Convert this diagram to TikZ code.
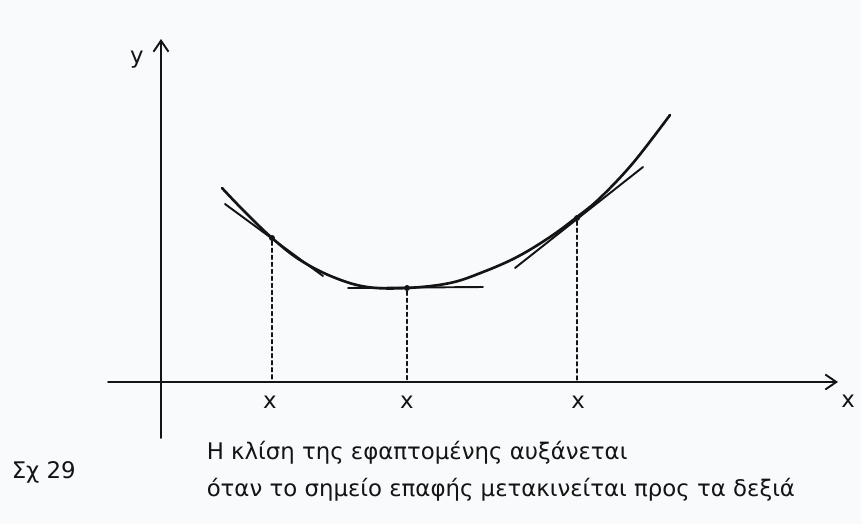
\documentclass[tikz,border=0pt]{standalone}
\usepackage{fontspec}
\setmainfont{DejaVu Sans}
\usetikzlibrary{arrows.meta}
\definecolor{SlopePaper}{rgb}{0.975,0.98,0.99}
\definecolor{SlopeInk}{gray}{0.08}
\tikzset{
    slope/diagram/.style={
        x=0.02cm, y=-0.02cm,
        font=\fontsize{13}{15.5}\selectfont,
        draw=SlopeInk,
        text=SlopeInk,
        line cap=round,
        line join=round
    },
    slope/axis/.style={
        draw=SlopeInk, line width=1.1pt,
        -{Straight Barb[length=2.2mm, width=3mm]}
    },
    slope/curve/.style={draw=SlopeInk, line width=1.5pt},
    slope/tangent/.style={draw=SlopeInk, line width=1.1pt},
    slope/guide/.style={
        draw=SlopeInk, line width=0.9pt,
        dash pattern=on 2.2pt off 1.8pt
    },
    slope/point/.style={circle, fill=SlopeInk, draw=none, inner sep=1.2pt},
    slope/label/.style={inner sep=1pt, outer sep=0pt}
}

\begin{document}
\begin{tikzpicture}[slope/diagram]
    \fill[SlopePaper] (0,0) rectangle (861,524);
    \useasboundingbox (0,0) rectangle (861,524);
    % axes
    \coordinate (XStart) at (108,382);
    \coordinate (XEnd) at (838,382);
    \coordinate (YStart) at (161,438);
    \coordinate (YEnd) at (161,39);
    \draw[slope/axis] (XStart) -- (XEnd);
    \draw[slope/axis] (YStart) -- (YEnd);
    \node[slope/label] (XName) at (848,401) {x};
    \node[slope/label] (YName) at (137,60) {y};
    % the curve
    \draw[slope/curve] plot[smooth, tension=0.6] coordinates {
        (222,188) (243,210) (272,238) (300,260) (333,277) (367,287)
        (407,288) (450,283) (483,272) (517,257) (550,237) (577,217)
        (600,198) (633,163) (670,115)
    };
    % points of contact and their tangents
    \node[slope/point] (LeftPt) at (272,238) {};
    \node[slope/point] (MidPt) at (407,288) {};
    \node[slope/point] (RightPt) at (577,218) {};
    \coordinate (LeftTanA) at (225,204);
    \coordinate (LeftTanB) at (323,276);
    \coordinate (MidTanA) at (348,288);
    \coordinate (MidTanB) at (483,287);
    \coordinate (RightTanA) at (515,268);
    \coordinate (RightTanB) at (643,167);
    \draw[slope/tangent] (LeftTanA) -- (LeftTanB);
    \draw[slope/tangent] (MidTanA) -- (MidTanB);
    \draw[slope/tangent] (RightTanA) -- (RightTanB);
    % projections on the x axis
    \coordinate (LeftFoot) at (272,382);
    \coordinate (MidFoot) at (407,382);
    \coordinate (RightFoot) at (577,382);
    \draw[slope/guide] (LeftPt) -- (LeftFoot);
    \draw[slope/guide] (MidPt) -- (MidFoot);
    \draw[slope/guide] (RightPt) -- (RightFoot);
    \node[slope/label] (LeftX) at (270,402) {x};
    \node[slope/label] (MidX) at (407,402) {x};
    \node[slope/label] (RightX) at (578,402) {x};
    % caption
    \node[slope/label, anchor=west] (CaptionA) at (205,453)
        {Η κλίση της εφαπτομένης αυξάνεται};
    \node[slope/label, anchor=west] (CaptionB) at (205,490)
        {όταν το σημείο επαφής μετακινείται προς τα δεξιά};
    \node[slope/label, anchor=west] (FigNo) at (10,472) {Σχ 29};
\end{tikzpicture}
\end{document}
